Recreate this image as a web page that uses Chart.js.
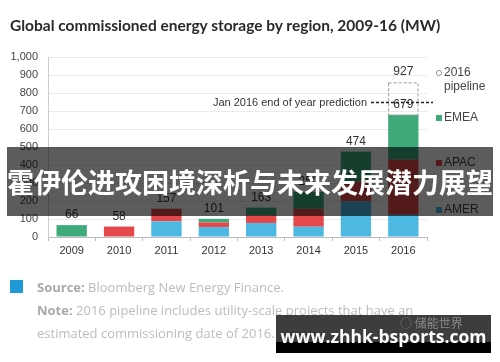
<!DOCTYPE html>
<html>
<head>
<meta charset="utf-8">
<script src="https://cdn.jsdelivr.net/npm/chart.js@4.4.1/dist/chart.umd.min.js"></script>
<style>
  body { margin: 0; background: #fff; }
  #wrap { position: relative; width: 500px; height: 362px; overflow: hidden; background: #fff; }
  #c { position: absolute; left: 0; top: 0; }
  .title { position: absolute; left: 10px; top: 16px; font: bold 15.5px Lato, sans-serif; color: #2a2a2a; white-space: nowrap; }
  .banner { position: absolute; left: 7px; top: 147px; width: 486px; height: 69px; background: rgba(0,0,0,0.64);
            color: #fff; font: bold 27px "Noto Sans CJK SC", sans-serif; line-height: 69px; text-align: center; white-space: nowrap; }
  .src-box { position: absolute; left: 10px; top: 280px; width: 13px; height: 13px; background: #1e9ad6; }
  .foot { position: absolute; left: 37px; font: 13px "Open Sans", sans-serif; color: #bcbcbc; white-space: nowrap; }
  .foot b { color: #a9a9a9; }
  .wm { position: absolute; left: 276px; top: 315px; width: 215px; height: 27px; background: rgba(40,40,40,0.9); }
  .wm2 { position: absolute; left: 276px; top: 342px; width: 215px; height: 11px; background: #000; }
  .wm-txt { position: absolute; left: 276px; top: 324px; width: 215px; text-align: center; font: bold 17.5px "Open Sans", sans-serif; color: #fff; }
  .wm-small { position: absolute; left: 400px; top: 314px; font: 12px "Noto Sans CJK SC", sans-serif; color: #8a8a8a; }
</style>
</head>
<body>
<div id="wrap">
  <canvas id="c" width="500" height="362"></canvas>
  <div class="title">Global commissioned energy storage by region, 2009-16 (MW)</div>
  <div class="banner">霍伊伦进攻困境深析与未来发展潜力展望</div>
  <div class="src-box"></div>
  <div class="foot" style="top:278px"><b>Source:</b> Bloomberg New Energy Finance.</div>
  <div class="foot" style="top:301px"><b>Note:</b> 2016 pipeline includes utility-scale projects that have an</div>
  <div class="foot" style="top:324px">estimated commissioning date of 2016.</div>
  <div class="wm"></div>
  <div class="wm2"></div>
  <div class="wm-small">◌ 储能世界</div>
  <div class="wm-txt">www.zhhk-bsports.com</div>
</div>
<script>
const years = ['2009', '2010', '2011', '2012', '2013', '2014', '2015', '2016'];
const amer = [0, 0, 87, 55, 78, 57, 198, 124];
const apac = [0, 58, 70, 26, 42, 100, 110, 305];
const emea = [66, 0, 0, 20, 43, 93, 166, 250];
const pipeline = [0, 0, 0, 0, 0, 0, 0, 180];
const pipelineLabel = '927';
const predictionValue = 752;
const yTicks = [0, 100, 200, 300, 400, 500, 600, 700, 800, 900, 1000];

const blue = '#4db8e2';
const red = '#e5484b';
const green = '#3fab7b';

// labels, legend, prediction line and dashed pipeline box
const extras = {
    id: 'extras',
    afterDatasetsDraw(chart) {
        const ctx = chart.ctx;
        const y = chart.scales.y;

        // pipeline box
        const pb = chart.getDatasetMeta(3).data[7];
        ctx.save();
        ctx.setLineDash([3, 2]);
        ctx.strokeStyle = '#999';
        ctx.lineWidth = 1;
        ctx.strokeRect(pb.x - pb.width / 2 + 0.5, pb.y + 0.5, pb.width - 1, pb.base - pb.y);
        ctx.restore();

        // totals
        ctx.save();
        ctx.font = '12px "Liberation Sans", Arial, sans-serif';
        ctx.fillStyle = '#333';
        ctx.textAlign = 'center';
        ctx.textBaseline = 'bottom';
        const meta = chart.getDatasetMeta(0);
        years.forEach((yr, i) => {
            const total = amer[i] + apac[i] + emea[i];
            const x = meta.data[i].x;
            ctx.fillText(String(total), x, y.getPixelForValue(total) - 4);
        });
        const top = amer[7] + apac[7] + emea[7] + pipeline[7];
        ctx.fillText(pipelineLabel, meta.data[7].x, y.getPixelForValue(top) - 5);

        // prediction line
        const py = Math.round(y.getPixelForValue(predictionValue)) + 0.5;
        ctx.textAlign = 'right';
        ctx.textBaseline = 'middle';
        ctx.font = '11px "Liberation Sans", Arial, sans-serif';
        ctx.fillText('Jan 2016 end of year prediction', 367, py);
        ctx.setLineDash([3, 2]);
        ctx.strokeStyle = '#222';
        ctx.lineWidth = 1.3;
        ctx.beginPath();
        ctx.moveTo(371, py);
        ctx.lineTo(433, py);
        ctx.stroke();
        ctx.setLineDash([]);

        // legend
        ctx.textAlign = 'left';
        ctx.font = '12px "Liberation Sans", Arial, sans-serif';
        ctx.fillStyle = '#444';
        ctx.strokeStyle = '#999';
        ctx.lineWidth = 1;
        ctx.beginPath();
        ctx.arc(439, 73, 2.6, 0, Math.PI * 2);
        ctx.stroke();
        ctx.fillText('2016', 444, 73);
        ctx.fillText('pipeline', 444, 87);
        const items = [['EMEA', green, 118], ['APAC', red, 163], ['AMER', blue, 210]];
        items.forEach(([name, col, ly]) => {
            ctx.fillStyle = col;
            ctx.fillRect(436, ly - 3, 6, 6);
            ctx.fillStyle = '#444';
            ctx.fillText(name, 444, ly);
        });
        ctx.restore();
    }
};

const canvas = document.getElementById('c');

new Chart(canvas, {
    type: 'bar',
    data: {
        labels: years,
        datasets: [
            { label: 'AMER', data: amer, backgroundColor: blue },
            { label: 'APAC', data: apac, backgroundColor: red },
            { label: 'EMEA', data: emea, backgroundColor: green },
            { label: '2016 pipeline', data: pipeline, backgroundColor: 'rgba(255,255,255,0)' },
        ]
    },
    options: {
        responsive: false,
        animation: false,
        layout: { padding: { left: 0, right: 73, top: 57, bottom: 103 } },
        datasets: { bar: { barPercentage: 0.64, categoryPercentage: 1.0 } },
        scales: {
            x: {
                stacked: true,
                offset: true,
                grid: { drawOnChartArea: false, tickLength: 4, color: '#bbb' },
                border: { color: '#bbb' },
                ticks: { color: '#333', font: { size: 11, family: '"Liberation Sans", Arial, sans-serif' }, padding: 3 },
                afterFit: (s) => { s.height = 22; }
            },
            y: {
                stacked: true,
                min: 0,
                max: 1000,
                afterBuildTicks: (s) => { s.ticks = yTicks.map(v => ({ value: v })); },
                grid: { color: '#ebebeb', drawTicks: false },
                border: { color: '#ccc' },
                ticks: {
                    color: '#444',
                    font: { size: 11, family: '"Liberation Sans", Arial, sans-serif' },
                    padding: 10,
                    callback: (v) => v.toLocaleString('en-US')
                },
                afterFit: (s) => { s.width = 48; }
            }
        },
        plugins: {
            legend: { display: false },
            tooltip: { enabled: false }
        }
    },
    plugins: [extras]
});
</script>
</body>
</html>
